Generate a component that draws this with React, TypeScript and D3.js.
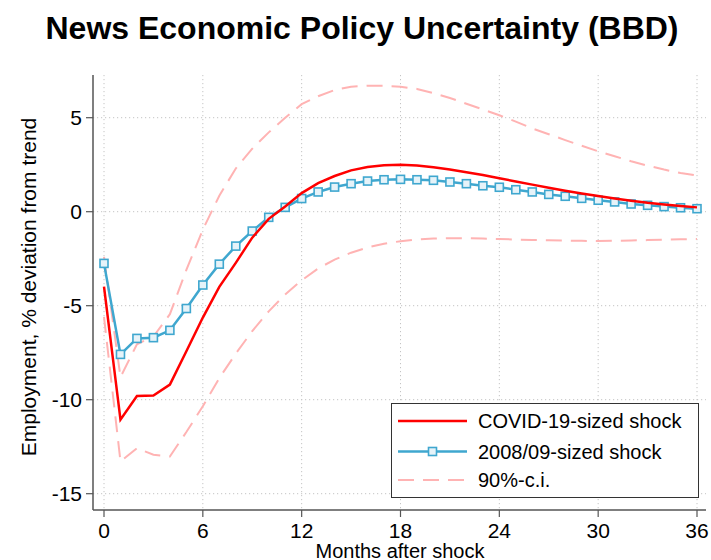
import React from "react";
import * as d3 from "d3";

const months = d3.range(0, 37);
const covid = [-3.99, -11.06, -9.8, -9.78, -9.2, -7.42, -5.63, -4.0, -2.72, -1.38, -0.38, 0.28, 0.99, 1.52, 1.9, 2.2, 2.38, 2.47, 2.5, 2.46, 2.36, 2.24, 2.1, 1.95, 1.78, 1.61, 1.44, 1.27, 1.12, 0.97, 0.83, 0.7, 0.58, 0.47, 0.38, 0.3, 0.23];
const gfc = [-2.75, -7.59, -6.74, -6.7, -6.31, -5.15, -3.9, -2.79, -1.83, -1.03, -0.3, 0.23, 0.7, 1.05, 1.31, 1.49, 1.63, 1.7, 1.72, 1.7, 1.67, 1.58, 1.49, 1.38, 1.3, 1.17, 1.05, 0.92, 0.82, 0.71, 0.61, 0.52, 0.41, 0.34, 0.27, 0.21, 0.16];
const upper = [-2.4, -8.8, -7.05, -6.64, -5.45, -3.1, -0.95, 0.85, 2.3, 3.35, 4.22, 5.0, 5.72, 6.14, 6.47, 6.65, 6.7, 6.7, 6.65, 6.53, 6.31, 6.05, 5.74, 5.44, 5.13, 4.79, 4.43, 4.12, 3.81, 3.51, 3.21, 2.95, 2.68, 2.45, 2.24, 2.06, 1.92];
const lower = [-5.6, -13.28, -12.58, -12.93, -13.02, -11.72, -10.35, -8.85, -7.55, -6.35, -5.3, -4.4, -3.65, -3.02, -2.55, -2.18, -1.9, -1.7, -1.57, -1.48, -1.43, -1.41, -1.41, -1.43, -1.45, -1.48, -1.5, -1.52, -1.54, -1.55, -1.56, -1.55, -1.53, -1.51, -1.49, -1.47, -1.45];
const xTicks = [0, 6, 12, 18, 24, 30, 36];
const yTicks = [5, 0, -5, -10, -15];
const legendLabels = ["COVID-19-sized shock", "2008/09-sized shock", "90%-c.i."];

const RED = "#ff0000";
const BLUE = "#3fa7cf";
const PINK = "#ffb3b3";
const FONT = "'Liberation Sans', Arial, sans-serif";

export default function App() {
  const x = d3.scaleLinear().domain([0, 36]).range([104, 697]);
  const y = d3.scaleLinear().domain([-15, 5]).range([493.7, 117.7]);
  const left = 93, right = 706, top = 75, bottom = 510;
  const line = (vals: number[]) =>
    d3.line<number>().x((_, i) => x(months[i])).y((d) => y(d))(vals) || "";

  const lx0 = 398, lx1 = 467, ltx = 478;
  const rows = [421, 451.5, 480];

  return (
    <svg width={711} height={560} style={{ position: "absolute", left: 0, top: 0, background: "#fff" }}>
      <rect width={711} height={560} fill="#fff" />
      <text x={362} y={39} textAnchor="middle" fontFamily={FONT} fontWeight="bold" fontSize={32}>
        News Economic Policy Uncertainty (BBD)
      </text>
      {yTicks.map((t) => (
        <line key={"gy" + t} x1={left} x2={right} y1={y(t)} y2={y(t)} stroke="#c4c4c4" strokeWidth={1} strokeDasharray="1.2 2.8" />
      ))}
      {xTicks.map((t) => (
        <line key={"gx" + t} x1={x(t)} x2={x(t)} y1={top} y2={bottom} stroke="#c4c4c4" strokeWidth={1} strokeDasharray="1.2 2.8" />
      ))}
      <path d={line(upper)} fill="none" stroke={PINK} strokeWidth={2} strokeDasharray="16 9" />
      <path d={line(lower)} fill="none" stroke={PINK} strokeWidth={2} strokeDasharray="16 9" />
      <path d={line(gfc)} fill="none" stroke={BLUE} strokeWidth={2.5} />
      {gfc.map((v, i) => (
        <rect key={"m" + i} x={x(months[i]) - 4} y={y(v) - 4} width={8} height={8} fill="#e6f3f9" stroke={BLUE} strokeWidth={1.6} />
      ))}
      <path d={line(covid)} fill="none" stroke={RED} strokeWidth={2.5} />
      <line x1={left} x2={left} y1={top} y2={bottom} stroke="#555" strokeWidth={1.5} />
      <line x1={left} x2={right} y1={bottom} y2={bottom} stroke="#555" strokeWidth={1.5} />
      {yTicks.map((t) => (
        <g key={"ty" + t}>
          <line x1={left - 7} x2={left} y1={y(t)} y2={y(t)} stroke="#555" strokeWidth={1.2} />
          <text x={82} y={y(t) + 7.5} textAnchor="end" fontFamily={FONT} fontSize={21}>{t}</text>
        </g>
      ))}
      {xTicks.map((t) => (
        <g key={"tx" + t}>
          <line x1={x(t)} x2={x(t)} y1={bottom} y2={bottom + 7} stroke="#555" strokeWidth={1.2} />
          <text x={x(t)} y={538} textAnchor="middle" fontFamily={FONT} fontSize={21}>{t}</text>
        </g>
      ))}
      <text x={400} y={558} textAnchor="middle" fontFamily={FONT} fontSize={20}>Months after shock</text>
      <text transform="translate(36,287) rotate(-90)" textAnchor="middle" fontFamily={FONT} fontSize={21}>
        Employment, % deviation from trend
      </text>
      <rect x={391.5} y={403.5} width={307} height={94} fill="#fff" stroke="#333" strokeWidth={1} />
      <line x1={lx0} x2={lx1} y1={rows[0]} y2={rows[0]} stroke={RED} strokeWidth={2.5} />
      <line x1={lx0} x2={lx1} y1={rows[1]} y2={rows[1]} stroke={BLUE} strokeWidth={2.5} />
      <rect x={(lx0 + lx1) / 2 - 4} y={rows[1] - 4} width={8} height={8} fill="#e6f3f9" stroke={BLUE} strokeWidth={1.6} />
      <line x1={lx0} x2={lx1} y1={rows[2]} y2={rows[2]} stroke={PINK} strokeWidth={2} strokeDasharray="16 9" />
      {legendLabels.map((l, i) => (
        <text key={l} x={ltx} y={rows[i] + 7} fontFamily={FONT} fontSize={20}>{l}</text>
      ))}
    </svg>
  );
}
